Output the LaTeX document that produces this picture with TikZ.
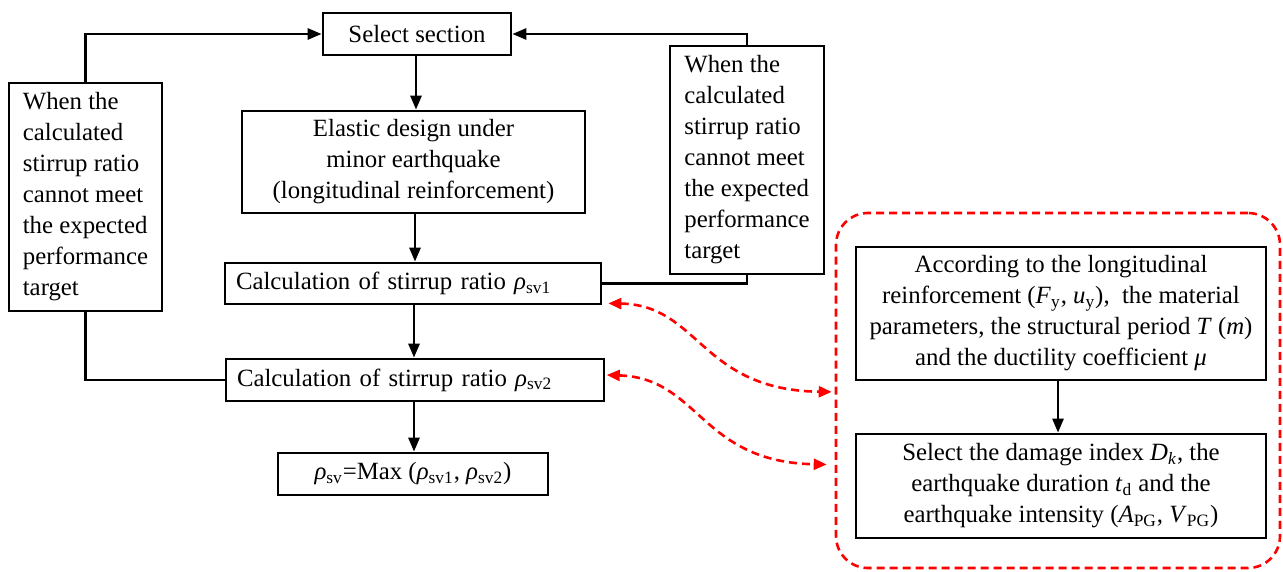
\documentclass[tikz,border=0pt]{standalone}
\usepackage{fontspec}
\setmainfont{Liberation Serif}
\usetikzlibrary{arrows.meta}
\newcommand\fs{\fontsize{12.4}{15.5}\selectfont}
\newcommand\rh{\textit{ρ}}
\newcommand\sbs[1]{\textsubscript{#1}}
\begin{document}
\begin{tikzpicture}[x=0.5pt,y=-0.5pt,
  box/.style={draw, line width=1.35pt, inner sep=0pt, align=center, font=\fs},
  lbox/.style={draw, line width=1.35pt, inner sep=0pt, align=left, font=\fs},
  flow/.style={line width=1.35pt, -{Triangle[length=7pt,width=5.5pt]}},
  link/.style={line width=1.35pt},
  redlink/.style={red, line width=1.3pt, dash pattern=on 4pt off 2.5pt,
     {Triangle[length=6.5pt,width=5.5pt]}-{Triangle[length=6.5pt,width=5.5pt]}},
  group/.style={draw=red, line width=1.3pt, dash pattern=on 4pt off 2.5pt, rounded corners=16pt, inner sep=0pt}]
\useasboundingbox (0,0) rectangle (1283,572);

\node[box, minimum width=94pt, minimum height=21pt] (sel) at (417,34) {Select section};
\node[box, minimum width=171.5pt, minimum height=51pt] (ela) at (413.5,162)
  {Elastic design under\\minor earthquake\\(longitudinal reinforcement)};
\node[lbox, minimum width=188pt, minimum height=20.5pt, text width=177pt, inner xsep=5.5pt] (r1) at (413,283.5)
  {Calculation of stirrup ratio \rh\sbs{sv1}};
\node[lbox, minimum width=189pt, minimum height=21pt, text width=178pt, inner xsep=5.5pt] (r2) at (415,380)
  {Calculation of stirrup ratio \rh\sbs{sv2}};
\node[box, minimum width=135pt, minimum height=21pt] (mx) at (413,474)
  {\rh\sbs{sv}=Max (\rh\sbs{sv1}, \rh\sbs{sv2})};
\node[lbox, minimum width=76.5pt, minimum height=114pt] (lb) at (85.5,197)
  {When the\\calculated\\stirrup ratio\\cannot meet\\the expected\\performance\\target};
\node[lbox, minimum width=77pt, minimum height=114pt] (rb) at (747,160)
  {When the\\calculated\\stirrup ratio\\cannot meet\\the expected\\performance\\target};

\node[group, minimum width=222pt, minimum height=177.5pt] (grp) at (1058,390.5) {};
\node[box, minimum width=205pt, minimum height=66.5pt] (ib1) at (1061,313.5)
  {According to the longitudinal\\reinforcement (\textit{F}\sbs{y}, \textit{u}\sbs{y}),\ \ the material\\parameters, the structural period \textit{T} (\textit{m})\\and the ductility coefficient \textit{μ}};
\node[box, minimum width=205pt, minimum height=52pt] (ib2) at (1061,486)
  {Select the damage index \textit{D}\textsubscript{\textit{k}}, the\\earthquake duration \textit{t}\sbs{d} and the\\earthquake intensity (\textit{A}\sbs{PG}, \textit{V}\sbs{PG})};

\draw[flow] (sel.south -| 416,0) -- (ela.north -| 416,0);
\draw[flow] (ela.south -| 415,0) -- (r1.north -| 415,0);
\draw[flow] (r1.south -| 414,0) -- (r2.north -| 414,0);
\draw[flow] (r2.south -| 414,0) -- (mx.north -| 414,0);
\draw[flow] (lb.north) |- (sel.west);
\draw[link] (lb.south) |- (r2.west);
\draw[flow] (rb.north) |- (sel.east);
\draw[link] (rb.south) |- (r1.east);
\draw[flow] (ib1.south -| 1058,0) -- (ib2.north -| 1058,0);

\draw[redlink] ([xshift=3pt,yshift=1pt]r1.south east) .. controls (700,305) and (700,390) .. ([xshift=-1.5pt,yshift=-0.7pt]grp.west);
\draw[redlink] ([xshift=0.7pt,yshift=2.5pt]r2.east) .. controls (700,378) and (700,462) .. ([xshift=-4pt,yshift=-37pt]grp.west);
\end{tikzpicture}
\end{document}
